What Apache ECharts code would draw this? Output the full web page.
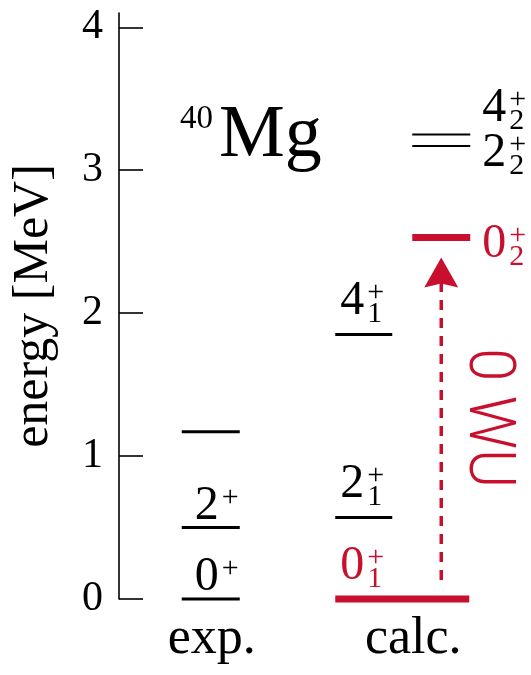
<!DOCTYPE html>
<html>
<head>
<meta charset="utf-8">
<script src="https://cdn.jsdelivr.net/npm/echarts@6/dist/echarts.min.js"></script>
<style>
  html, body { margin: 0; padding: 0; background: #fff; }
  #chart { width: 531px; height: 675px; }
</style>
</head>
<body>
<div id="chart"></div>
<script>
// Level scheme of 40Mg: measured levels next to the calculated spectrum
const categories = ['exp.', 'calc.'];
const energyTicks = [0, 1, 2, 3, 4];

const expEnergy = [0, 0.50, 1.17];
const expSpin = ['0', '2', null];          // third state has no spin assignment

const calcEnergy = [0, 0.57, 1.85, 2.53, 3.17, 3.25];
const calcSpin = ['0', '2', '4', '0', '2', '4'];
const calcIndex = ['1', '1', '1', '2', '2', '2'];
const calcBand = ['ground', 'yrast', 'yrast', 'excited', 'excited', 'excited'];

// transition between the two calculated 0+ states
const transitionFrom = 0;                  // index into the calc levels
const transitionTo = 3;
const transitionLabel = '0 WU';

const nucleusMass = '40';
const nucleusSymbol = 'Mg';

const SERIF = "'Liberation Serif', 'Times New Roman', serif";
const LIGHT_SANS = "Roboto, 'Liberation Sans', sans-serif";
const RED = '#c8102e';
const INK = '#000';
const MAIN_FS = 48;
const SCRIPT_FS = 30;

const measureCtx = document.createElement('canvas').getContext('2d');
function textWidth(str, font) {
  measureCtx.font = font;
  return measureCtx.measureText(str).width;
}

// spin with a "+" parity superscript and an optional state-index subscript
function spinLabel(x, yMid, spin, index, color) {
  const mainFont = MAIN_FS + 'px ' + SERIF;
  const scriptFont = SCRIPT_FS + 'px ' + SERIF;
  const sx = x + textWidth(spin, mainFont) + 3;
  const kids = [
    { type: 'text', x: x, y: yMid,
      style: { text: spin, font: mainFont, fill: color, align: 'left', verticalAlign: 'middle' } },
    { type: 'text', x: sx, y: yMid - 8,
      style: { text: '+', font: scriptFont, fill: color, align: 'left', verticalAlign: 'middle' } }
  ];
  if (index) {
    kids.push({ type: 'text', x: sx, y: yMid + 13,
      style: { text: index, font: scriptFont, fill: color, align: 'left', verticalAlign: 'middle' } });
  }
  return kids;
}

function renderExp(params, api) {
  const i = params.dataIndex;
  const p = api.coord([api.value(0), api.value(1)]);
  const cx = p[0], y = p[1];
  const kids = [{
    type: 'line',
    shape: { x1: cx - 30, y1: y, x2: cx + 28, y2: y },
    style: { stroke: INK, lineWidth: 3 }
  }];
  if (expSpin[i] !== null) kids.push(...spinLabel(cx - 17, y - 21.5, expSpin[i], null, INK));
  return { type: 'group', children: kids };
}

// labels of the excited band sit right of their lines; close levels are pushed apart upwards
function excitedLabelY(api) {
  const order = calcEnergy.map((e, i) => i)
    .filter(i => calcBand[i] === 'excited')
    .sort((a, b) => calcEnergy[a] - calcEnergy[b]);
  const out = {};
  let prev = Infinity;
  order.forEach(i => {
    const want = api.coord([1, calcEnergy[i]])[1] + 7;
    const y = Math.min(want, prev - 45);
    out[i] = y;
    prev = y;
  });
  return out;
}

const bandSpan = { ground: [-78, 56], yrast: [-78, -21], excited: [-1, 57] };

function renderCalc(params, api) {
  const i = params.dataIndex;
  const p = api.coord([api.value(0), api.value(1)]);
  const cx = p[0], y = p[1];
  const band = calcBand[i];
  const hl = (i === transitionFrom || i === transitionTo);
  const color = hl ? RED : INK;
  const lw = hl ? 7 : (band === 'excited' ? 2 : 3);
  const span = bandSpan[band];
  const kids = [{
    type: 'line',
    shape: { x1: cx + span[0], y1: y, x2: cx + span[1], y2: y },
    style: { stroke: color, lineWidth: lw }
  }];
  if (band === 'excited') {
    kids.push(...spinLabel(cx + 69, excitedLabelY(api)[i], calcSpin[i], calcIndex[i], color));
  } else {
    kids.push(...spinLabel(cx - 73, y - 33, calcSpin[i], calcIndex[i], color));
  }
  return { type: 'group', children: kids };
}

function renderTransition(params, api) {
  const cx = api.coord([api.value(0), 0])[0];
  const ax = cx + 28;
  const yFrom = api.coord([api.value(0), api.value(1)])[1];
  const yTo = api.coord([api.value(0), api.value(2)])[1];
  const startY = yFrom - 19;
  const tipY = yTo + 20;
  return {
    type: 'group',
    children: [
      { type: 'line',
        shape: { x1: ax, y1: startY, x2: ax, y2: tipY + 24 },
        style: { stroke: RED, lineWidth: 3.5, lineDash: [10, 8] } },
      { type: 'polygon',
        shape: { points: [[ax, tipY], [ax + 17, tipY + 30], [ax, tipY + 26], [ax - 17, tipY + 30]] },
        style: { fill: RED } },
      { type: 'text', x: ax + 44.5, y: (yFrom + yTo) / 2, rotation: -Math.PI / 2, scaleX: 0.93,
        style: { text: transitionLabel, font: '300 64px ' + LIGHT_SANS, fill: RED,
                 align: 'center', verticalAlign: 'middle' } }
    ]
  };
}

const chart = echarts.init(document.getElementById('chart'), null, { renderer: 'canvas' });
chart.setOption({
  animation: false,
  backgroundColor: '#fff',
  title: {
    text: '{iso|' + nucleusMass + '}{el|' + nucleusSymbol + '}',
    left: 180,
    top: 100,
    padding: 0,
    textStyle: {
      fontWeight: 'normal',
      rich: {
        iso: { fontFamily: SERIF, fontWeight: 'normal', fontSize: 33, color: INK,
               verticalAlign: 'top', padding: [3, 6, 0, 0] },
        el: { fontFamily: SERIF, fontWeight: 'normal', fontSize: 74, lineHeight: 74, color: INK }
      }
    }
  },
  grid: { left: 111, right: 17, top: 13, bottom: 76, outerBoundsMode: 'none', containLabel: false },
  xAxis: {
    type: 'category',
    data: categories,
    axisLine: { show: false },
    axisTick: { show: false },
    splitLine: { show: false },
    axisLabel: { fontFamily: SERIF, fontSize: 52, color: INK, margin: 14 }
  },
  yAxis: {
    type: 'value',
    min: 0,
    max: 4.1,
    offset: -8,
    name: 'energy [MeV]',
    nameLocation: 'middle',
    nameGap: 60,
    nameRotate: 90,
    nameTextStyle: { fontFamily: SERIF, fontSize: 50, color: INK },
    axisLine: { show: true, lineStyle: { color: INK, width: 1.6 } },
    axisTick: { show: true, inside: true, length: 24, customValues: energyTicks,
                lineStyle: { color: INK, width: 1.6 } },
    axisLabel: { customValues: energyTicks, margin: 16, fontFamily: SERIF, fontSize: 42, color: INK },
    splitLine: { show: false }
  },
  series: [
    { type: 'custom', name: 'exp', silent: true, clip: false,
      encode: { x: 0, y: 1 },
      data: expEnergy.map(e => [0, e]),
      renderItem: renderExp },
    { type: 'custom', name: 'calc', silent: true, clip: false,
      encode: { x: 0, y: 1 },
      data: calcEnergy.map(e => [1, e]),
      renderItem: renderCalc },
    { type: 'custom', name: 'transition', silent: true, clip: false,
      encode: { x: 0, y: [1, 2] },
      data: [[1, calcEnergy[transitionFrom], calcEnergy[transitionTo]]],
      renderItem: renderTransition }
  ]
});
</script>
</body>
</html>
